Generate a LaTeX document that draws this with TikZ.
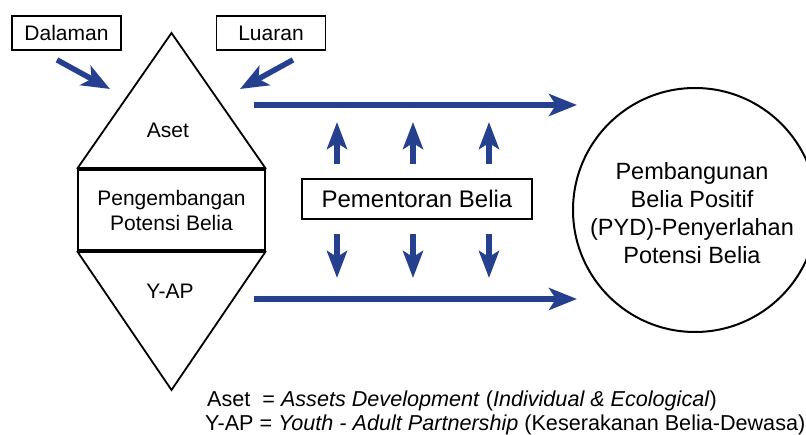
\documentclass[tikz,border=0pt]{standalone}
\usepackage{fontspec}
\setmainfont{Liberation Sans}
\usetikzlibrary{arrows.meta}
\definecolor{flowblue}{RGB}{37,64,143}
\tikzset{
  labelbox/.style={draw=black, line width=1.8pt, minimum width=109pt, minimum height=34pt,
    inner sep=0pt, font=\fontsize{21}{25}\selectfont},
  plainlabel/.style={inner sep=0pt, font=\fontsize{21}{25}\selectfont},
  flowarrow/.style={draw=flowblue, line width=5.5pt,
    -{Stealth[length=28pt, width=22pt, inset=7pt]}},
  mentorarrow/.style={draw=flowblue, line width=6pt,
    -{Stealth[length=27pt, width=20pt, inset=6pt]}},
  legendtext/.style={inner sep=0pt, anchor=base west, font=\fontsize{21.6}{24}\selectfont}
}
\begin{document}
\begin{tikzpicture}[x=1pt, y=-1pt]
\useasboundingbox (0,0) rectangle (806,435);
\clip (0,0) rectangle (806,435);

% source boxes
\node[labelbox] (dalaman) at (66.5,33) {Dalaman};
\node[labelbox] (luaran) at (271,33) {Luaran};

% diamond: upper triangle, middle box, lower triangle
\coordinate (apex) at (171.5,33);
\coordinate (nadir) at (171.5,390);
\node[draw=black, line width=2pt, minimum width=187pt, minimum height=80pt, inner sep=0pt,
  align=center, font=\fontsize{21}{25}\selectfont] (pbp) at (171.5,210)
  {Pengembangan\\Potensi Belia};
\draw[line width=1.8pt, line join=miter] (pbp.north west) -- (apex) -- (pbp.north east);
\draw[line width=1.8pt, line join=miter] (pbp.south west) -- (nadir) -- (pbp.south east);
\draw[line width=3.2pt] (pbp.north west) -- (pbp.north east);
\draw[line width=3.2pt] (pbp.south west) -- (pbp.south east);
\node[plainlabel] (aset) at (168,130) {Aset};
\node[plainlabel] (yap) at (170,291) {Y-AP};

% inputs into the diamond
\coordinate (dalamanend) at (110,89);
\coordinate (luaranend) at (240,89);
\path (dalaman.south) ++(-9.5,9) coordinate (dalamanstart);
\path (luaran.south) ++(22,9) coordinate (luaranstart);
\draw[flowarrow] (dalamanstart) -- (dalamanend);
\draw[flowarrow] (luaranstart) -- (luaranend);

% outcome circle
\node[draw=black, line width=2pt, circle, minimum size=244pt, inner sep=0pt] (goal) at (695,210) {};
\node[inner sep=0pt, align=center, font=\fontsize{23.5}{28}\selectfont] (goaltext) at (692,213.5)
  {Pembangunan\\Belia Positif\\(PYD)-Penyerlahan\\Potensi Belia};

% main flows
\coordinate (topstart) at (254,105);
\coordinate (topend) at (577,105);
\coordinate (botstart) at (254,299);
\coordinate (botend) at (577,299);
\draw[flowarrow] (topstart) -- (topend);
\draw[flowarrow] (botstart) -- (botend);

% mentoring box and its arrows
\node[draw=black, line width=1.8pt, minimum width=230pt, minimum height=40pt, inner sep=0pt,
  font=\fontsize{24}{28}\selectfont] (mentor) at (417,199) {Pementoran Belia};
\foreach \x/\n in {337/a, 413/b, 489/c} {
  \coordinate (up\n s) at (\x,164);
  \coordinate (up\n e) at (\x,122);
  \coordinate (dn\n s) at (\x,234);
  \coordinate (dn\n e) at (\x,278);
  \draw[mentorarrow] (up\n s) -- (up\n e);
  \draw[mentorarrow] (dn\n s) -- (dn\n e);
}

% legend
\node[legendtext] (leg1) at (207,407)
  {Aset~ = \textit{Assets Development} (\textit{Individual \& Ecological})};
\node[legendtext] (leg2) at (205,431)
  {Y-AP = \textit{Youth - Adult Partnership} (Keserakanan Belia-Dewasa)};
\end{tikzpicture}
\end{document}
